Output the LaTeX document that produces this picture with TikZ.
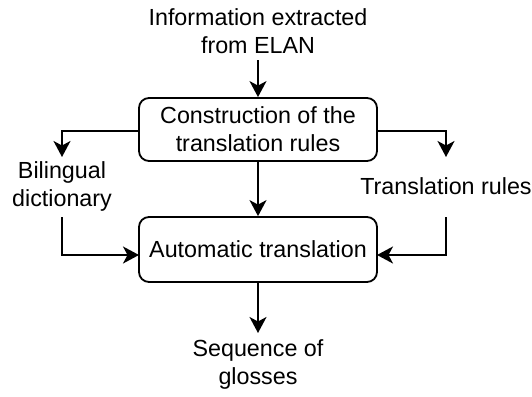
\documentclass[tikz,border=0pt]{standalone}
\usepackage{fontspec}
\setmainfont{Liberation Sans}
\usetikzlibrary{arrows.meta}
\begin{document}
\begin{tikzpicture}[x=1pt,y=1pt,
  every node/.style={font=\fontsize{23.3}{28}\selectfont, align=center, inner sep=3pt},
  procbox/.style={draw, line width=1.8pt, rounded corners=10pt, minimum width=238pt},
  conn/.style={line width=1.8pt, -{Stealth[length=16pt,width=17pt,inset=4.5pt]}}]
\useasboundingbox (0,0) rectangle (532,-396);
\node (info) at (258,-31) {Information extracted\\from ELAN};
\node[procbox, minimum height=63pt] (box1) at (258,-129.5) {Construction of the\\translation rules};
\node[procbox, minimum height=65pt] (box2) at (258,-249.5) {Automatic translation};
\node (bil) at (62,-186) {Bilingual\\dictionary};
\node (tr) at (446,-186) {Translation rules};
\node (seq) at (258,-364) {Sequence of\\glosses};
\coordinate (bilin) at (62,-157);
\coordinate (trin) at (446,-157);
\coordinate (bilout) at (62,-217);
\coordinate (trout) at (446,-217);
\coordinate (l2) at (139,-255);
\coordinate (r2) at (377,-255);
\coordinate (l1) at (139,-131);
\coordinate (r1) at (377,-131);
\draw[conn] (258,-60) -- (box1.north);
\draw[conn] (l1) -| (bilin);
\draw[conn] (r1) -| (trin);
\draw[conn] (bilout) |- (l2);
\draw[conn] (trout) |- (r2);
\draw[conn] (box1.south) -- (box2.north);
\draw[conn] (box2.south) -- (258,-333);
\end{tikzpicture}
\end{document}
